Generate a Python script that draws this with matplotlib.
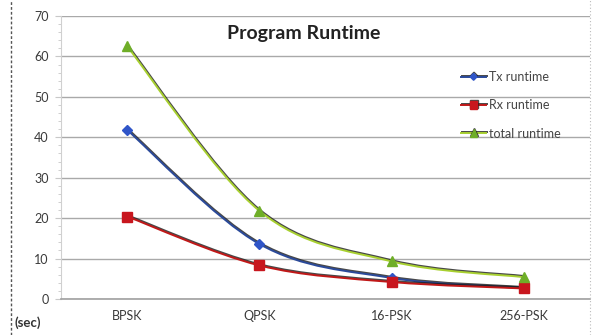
import matplotlib
matplotlib.use("Agg")
import matplotlib.pyplot as plt
from matplotlib.path import Path
from matplotlib.patches import PathPatch
from matplotlib.lines import Line2D
import matplotlib.patheffects as pe
import numpy as np

categories = ["BPSK", "QPSK", "16-PSK", "256-PSK"]
tx_runtime = [41.8, 13.6, 5.2, 2.7]
rx_runtime = [20.4, 8.3, 4.2, 2.6]
total_runtime = [62.5, 21.8, 9.3, 5.4]
y_ticks = [0, 10, 20, 30, 40, 50, 60, 70]

plt.rcParams["font.family"] = ["Lato", "DejaVu Sans"]

fig = plt.figure(figsize=(5.93, 3.35), dpi=100)
ax = fig.add_axes([0.103, 0.1075, 0.892, 0.8445])


def smooth_path(xs, ys, tension=1 / 6):
    """Catmull-Rom style Bezier path through the points (spreadsheet-like smoothing)."""
    pts = np.column_stack([xs, ys]).astype(float)
    n = len(pts)
    verts = [pts[0]]
    codes = [Path.MOVETO]
    for i in range(n - 1):
        p0 = pts[i - 1] if i > 0 else pts[i]
        p1 = pts[i]
        p2 = pts[i + 1]
        p3 = pts[i + 2] if i + 2 < n else pts[i + 1]
        c1 = p1 + (p2 - p0) * tension
        c2 = p2 - (p3 - p1) * tension
        verts += [c1, c2, p2]
        codes += [Path.CURVE4] * 3
    return Path(verts, codes)


shadow = [pe.SimpleLineShadow(offset=(0.3, 0.8), shadow_color="#1a1a1a",
                              alpha=0.8), pe.Normal()]

x = np.arange(len(categories))
series = [
    ("Tx runtime", tx_runtime, "#2B4A9A", "D", "#2F55C8", 5),
    ("Rx runtime", rx_runtime, "#C01818", "s", "#C8161E", 7),
    ("total runtime", total_runtime, "#A8D030", "^", "#6FAE28", 7),
]

handles = []
for label, vals, lc, mk, mc, ms in series:
    patch = PathPatch(smooth_path(x, vals), fill=False, edgecolor=lc, lw=1.4,
                      zorder=3, transform=ax.transData, path_effects=shadow)
    ax.add_patch(patch)
    ax.plot(x, vals, linestyle="none", marker=mk, ms=ms, color=mc,
            markeredgecolor=mc, zorder=4)
    handles.append(Line2D([0], [0], color=lc, lw=1.4, marker=mk, ms=ms - 1.5,
                          markerfacecolor=mc, markeredgecolor=mc,
                          path_effects=shadow))

ax.set_xlim(-0.5, len(categories) - 0.5)
ax.set_ylim(0, 70)
ax.set_xticks(x)
ax.set_xticklabels(categories)
ax.set_yticks(y_ticks)
ax.set_yticks(np.arange(0, 70.1, 2), minor=True)
ax.tick_params(axis="x", length=0, pad=8, labelsize=9, colors="#3a3a3a")
ax.tick_params(axis="y", which="major", length=4, direction="out",
               pad=5, labelsize=9, colors="#3a3a3a")
ax.tick_params(axis="y", which="minor", length=2, direction="out",
               color="#c8c8c8")
ax.tick_params(axis="y", which="major", color="#c8c8c8")

ax.grid(axis="y", which="major", color="#a9a9a9", lw=1.0, zorder=0)
ax.set_axisbelow(True)
for side in ["top", "right"]:
    ax.spines[side].set_visible(False)
ax.spines["left"].set_color("#d0d0d0")
ax.spines["bottom"].set_color("#a0a0a0")
ax.spines["bottom"].set_linewidth(1.2)

ax.text(0.458, 0.94, "Program Runtime", transform=ax.transAxes, ha="center",
        va="center", fontsize=14, fontweight="bold", color="#222222")

ax.legend(handles, [s[0] for s in series], loc="upper left",
          bbox_to_anchor=(0.735, 0.845), frameon=False, fontsize=9,
          labelspacing=1.3, handlelength=2.0, handletextpad=0.25,
          labelcolor="#444444")

fig.text(28 / 593, 1 - 323 / 335, "(sec)", ha="center", va="center",
         fontsize=9.5, fontweight="bold", color="#333333")

fig.add_artist(Line2D([11 / 593, 11 / 593], [0, 1], transform=fig.transFigure,
                      color="#555555", lw=1.0, ls=(0, (2, 1.5))))
fig.add_artist(Line2D([590 / 593, 590 / 593], [0, 1], transform=fig.transFigure,
                      color="#bbbbbb", lw=0.8, ls=(0, (1, 2))))

fig.savefig("out.png", dpi=100)
